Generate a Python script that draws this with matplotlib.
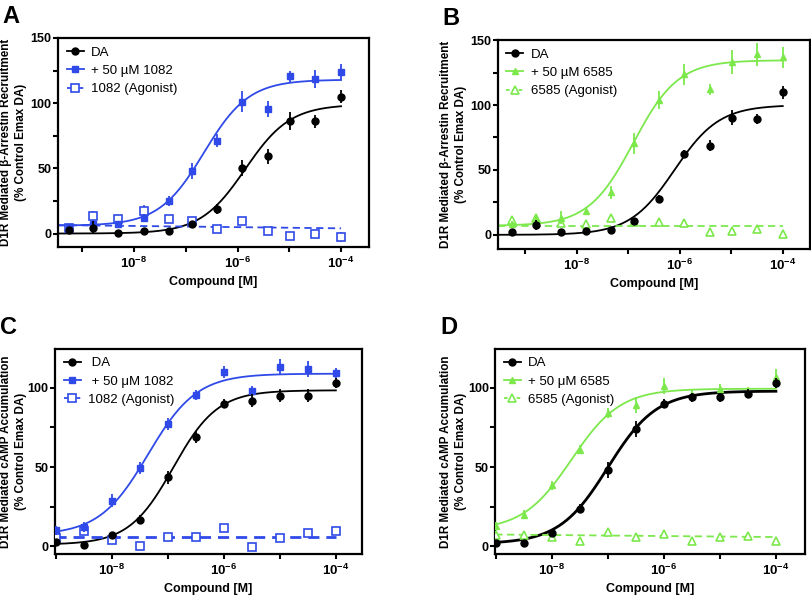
import numpy as np
import matplotlib.pyplot as plt
from matplotlib.lines import Line2D
from matplotlib.ticker import NullLocator

plt.rcParams['font.family'] = ['Liberation Sans', 'DejaVu Sans']
plt.rcParams['mathtext.fontset'] = 'custom'
plt.rcParams['mathtext.rm'] = 'Liberation Sans'
plt.rcParams['mathtext.bf'] = 'Liberation Sans:bold'

BLUE = '#2f4ae8'
GREEN = '#7ce84c'

# concentrations (M)
conc_arr = [5.6e-10, 1.6e-9, 5.0e-9, 1.55e-8, 4.7e-8, 1.3e-7, 4.0e-7, 1.23e-6, 3.8e-6, 1.05e-5, 3.2e-5, 1e-4]
conc_camp = [1e-9, 3.16e-9, 1e-8, 3.16e-8, 1e-7, 3.16e-7, 1e-6, 3.16e-6, 1e-5, 3.16e-5, 1e-4]

# A: beta-arrestin, 1082
a_da = [3, 4.6, 0.5, 1.8, 1.8, 7.2, 18.7, 50.5, 59.2, 86.2, 86, 105]
a_da_err = [2, 5, 1, 1, 1, 2, 4, 6, 6, 7, 5, 5]
a_pam = [5, 7.7, 7.7, 12, 25, 48, 71, 101, 95.6, 120.5, 118.7, 123.8]
a_pam_err = [2, 2, 2, 3, 4, 6, 5, 8, 6, 4, 7, 6]
a_ago = [4, 13.3, 11.5, 17, 10.8, 9.7, 3.6, 9.5, 1.8, -1.8, 0, -2.6]
a_ago_err = [2, 4, 3, 5, 2, 2, 2, 3, 2, 2, 2, 4]

# B: beta-arrestin, 6585
b_da = [2, 7.7, 2, 3.3, 3.8, 10.8, 27.7, 62, 68.7, 90.3, 89, 110]
b_da_err = [1, 4, 1, 1, 1, 1, 3, 3, 4, 6, 4, 5]
b_pam = [8, 12, 13, 18.7, 32.8, 70.5, 103.8, 123.6, 112, 133, 139, 136.7]
b_pam_err = [3, 3, 5, 3, 5, 8, 7, 8, 4, 9, 9, 8]
b_ago = [11.5, 13, 9, 8, 13, 10, 10, 9.5, 2, 3, 4.5, 0.5]
b_ago_err = [2, 2, 2, 2, 2, 2, 2, 2, 2, 2, 2, 2]

# C: cAMP, 1082
c_da = [2.7, 1, 7, 16.8, 43.6, 69, 90, 92, 95.2, 95.2, 103]
c_da_err = [1, 1, 1, 3, 4, 4, 3, 4, 4, 4, 3]
c_pam = [10, 12, 28.8, 49.5, 77.3, 95.4, 110, 98.3, 113, 112, 109.5]
c_pam_err = [3, 3, 4, 4, 4, 3, 4, 3, 5, 5, 3]
c_ago = [5.3, 9.5, 4.2, 0, 6.1, 5.9, 11.6, -0.4, 5.3, 8.2, 9.5]
c_ago_err = [1] * 11

# D: cAMP, 6585
d_da = [2.1, 2.1, 8.4, 23.8, 48.4, 74.3, 90, 94, 94, 96.4, 103]
d_da_err = [1, 1, 1, 3, 5, 5, 3, 3, 3, 3, 3]
d_pam = [13, 20, 38.5, 61, 84.2, 89, 101, 95.8, 99.6, 97.3, 106.7]
d_pam_err = [2, 3, 3, 3, 3, 5, 5, 3, 3, 3, 5]
d_ago = [7.4, 7, 5.7, 3.6, 8.8, 5.7, 7.8, 3.2, 5.7, 6.7, 3.2]
d_ago_err = [1] * 11

# fitted curves: bottom, top, logEC50, hill
a_da_fit = [0, 99, -5.85, 1.0]
a_pam_fit = [6, 118, -6.65, 1.0]
a_ago_fit = [6.5, 4]
b_da_fit = [0, 100, -6.1, 1.0]
b_pam_fit = [7, 134.5, -6.9, 1.0]
b_ago_fit = [7, 7]
c_da_fit = [1, 98.5, -6.9, 1.1]
c_pam_fit = [7, 109, -7.35, 1.0]
c_ago_fit = [6, 6]
d_da_fit = [1.5, 98, -7.0, 1.0]
d_pam_fit = [10, 99.5, -7.65, 1.0]
d_ago_fit = [7.4, 5.8]


def fourpl(logx, p):
    return p[0] + (p[1] - p[0]) / (1 + 10 ** ((p[2] - logx) * p[3]))


def panel(pos, letter, color, marker, conc, da, da_err, pam, pam_err, ago, ago_err,
          da_fit, pam_fit, ago_fit, xlim, ylim, yticks, yminor, ylabel, names,
          lw_da=1.3, lw_ago=1.3, ypad=2.5):
    ax = fig.add_axes(pos)
    ax.set_xscale('log')
    lx = np.linspace(xlim[0], -4, 300)
    xs = 10 ** lx
    ax.plot(xs, fourpl(lx, da_fit), color='black', lw=lw_da, zorder=2)
    ax.plot(xs, fourpl(lx, pam_fit), color=color, lw=1.3, zorder=2)
    ax.plot([xs[0], xs[-1]], ago_fit, color=color, lw=lw_ago, ls=(0, (4, 2.5)), zorder=2)

    ax.errorbar(conc, ago, yerr=ago_err, fmt=marker, color=color, mfc='white', mec=color,
                ms=5.5, mew=1.2, elinewidth=1.2, capsize=0, zorder=3)
    ax.errorbar(conc, pam, yerr=pam_err, fmt=marker, color=color, ms=5, elinewidth=1.3,
                capsize=0, zorder=4)
    ax.errorbar(conc, da, yerr=da_err, fmt='o', color='black', ms=5, elinewidth=1.3,
                capsize=0, zorder=5)

    ax.set_xlim(10 ** xlim[0], 10 ** xlim[1])
    ax.set_ylim(*ylim)
    decades = [1e-9, 1e-8, 1e-7, 1e-6, 1e-5, 1e-4]
    labels = ['', r'$\mathbf{10^{-8}}$', '', r'$\mathbf{10^{-6}}$', '', r'$\mathbf{10^{-4}}$']
    ax.set_xticks(decades)
    ax.set_xticklabels(labels, fontsize=9.5)
    ax.xaxis.set_minor_locator(NullLocator())
    ax.set_yticks(yticks)
    ax.set_yticks(yminor, minor=True)
    ax.set_yticklabels([str(t) for t in yticks], fontsize=9, fontweight='bold')
    ax.tick_params(which='both', direction='out', length=3.6, width=1.5)
    ax.tick_params(axis='y', pad=1)
    ax.tick_params(axis='x', pad=3)
    for s in ax.spines.values():
        s.set_linewidth(1.6)
    ax.set_xlabel('Compound [M]', fontsize=9, fontweight='bold', labelpad=3)
    ax.set_ylabel(ylabel, fontsize=8.4, fontweight='bold', labelpad=ypad, linespacing=1.35)

    handles = [
        Line2D([], [], color='black', marker='o', ms=5, lw=1.3),
        Line2D([], [], color=color, marker=marker, ms=5, lw=1.3),
        Line2D([], [], color=color, marker=marker, ms=5.5, mfc='white', mew=1.2, lw=1.3, ls=(0, (2, 1.5))),
    ]
    ax.legend(handles, names, loc='upper left', frameon=False, fontsize=9.5,
              handlelength=1.3, handletextpad=0.55, labelspacing=0.45, borderaxespad=0.2,
              borderpad=0.45)
    fig.text(pos[0] - 0.068, pos[1] + pos[3] + 0.055, letter, fontsize=17, fontweight='bold',
             ha='left', va='top')
    return ax


fig = plt.figure(figsize=(8.12, 5.96), dpi=100)

arr_label = 'D1R Mediated β-Arrestin Recruitment\n(% Control Emax DA)'
camp_label = 'D1R Mediated cAMP Accumulation\n(% Control Emax DA)'

panel([0.0714, 0.5856, 0.383, 0.3507], 'A', BLUE, 's', conc_arr,
      a_da, a_da_err, a_pam, a_pam_err, a_ago, a_ago_err,
      a_da_fit, a_pam_fit, a_ago_fit, (-9.47, -3.46), (-10.3, 150),
      [0, 50, 100, 150], [25, 75, 125], arr_label,
      ['DA', '+ 50 µM 1082', '1082 (Agonist)'])

panel([0.613, 0.582, 0.3846, 0.3507], 'B', GREEN, '^', conc_arr,
      b_da, b_da_err, b_pam, b_pam_err, b_ago, b_ago_err,
      b_da_fit, b_pam_fit, b_ago_fit, (-9.53, -3.47), (-11, 150),
      [0, 50, 100, 150], [25, 75, 125], arr_label,
      ['DA', '+ 50 µM 6585', '6585 (Agonist)'])

panel([0.0677, 0.0705, 0.3777, 0.3445], 'C', BLUE, 's', conc_camp,
      c_da, c_da_err, c_pam, c_pam_err, c_ago, c_ago_err,
      c_da_fit, c_pam_fit, c_ago_fit, (-9.01, -3.54), (-4.9, 124.8),
      [0, 50, 100], [25, 75], camp_label,
      [' DA', ' + 50 μM 1082', '1082 (Agonist)'], lw_ago=2.0, ypad=0.5)

panel([0.61, 0.0705, 0.3814, 0.3445], 'D', GREEN, '^', conc_camp,
      d_da, d_da_err, d_pam, d_pam_err, d_ago, d_ago_err,
      d_da_fit, d_pam_fit, d_ago_fit, (-9.01, -3.48), (-4.9, 124.8),
      [0, 50, 100], [25, 75], camp_label,
      ['DA', '+ 50 μM 6585', '6585 (Agonist)'], lw_da=2.0, ypad=0.5)

fig.savefig('out.png', dpi=100)
